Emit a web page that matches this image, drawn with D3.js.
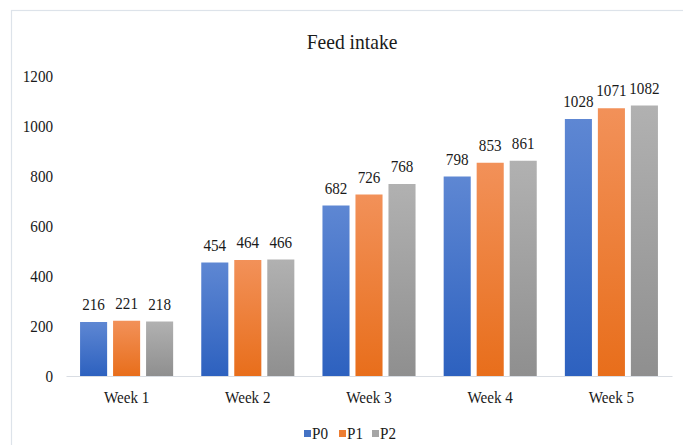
<!DOCTYPE html>
<html>
<head>
<meta charset="utf-8">
<script src="https://cdn.jsdelivr.net/npm/d3@7"></script>
<style>
  html, body { margin: 0; padding: 0; background: #fff; }
  svg { display: block; }
</style>
</head>
<body>
<svg id="chart" width="683" height="445"></svg>
<script>
const weeks = ["Week 1", "Week 2", "Week 3", "Week 4", "Week 5"];
const seriesNames = ["P0", "P1", "P2"];
const p0 = [216, 454, 682, 798, 1028];
const p1 = [221, 464, 726, 853, 1071];
const p2 = [218, 466, 768, 861, 1082];
const yTicks = [0, 200, 400, 600, 800, 1000, 1200];

const seriesValues = [p0, p1, p2];
const gradStops = [
  ["#5e87d3", "#2d61bf"],
  ["#f29159", "#e86e1b"],
  ["#b1b1b1", "#8f8f8f"]
];
const legendColors = ["#4472c4", "#ed7d31", "#a5a5a5"];

const FONT = "Liberation Serif";
const SQUEEZE = 0.89;

const svg = d3.select("#chart");
const W = 683, H = 445;
const margin = { left: 66, right: 11, top: 76, bottom: 69 };

// Horizontally condensed serif label
function label(parent, x, y, txt, size, anchor) {
  return parent.append("text")
    .attr("transform", `translate(${x},${y}) scale(${SQUEEZE},1)`)
    .attr("text-anchor", anchor || "middle")
    .attr("font-family", FONT)
    .attr("font-size", size)
    .attr("fill", "#1a1a1a")
    .text(txt);
}

// Chart frame
svg.append("rect")
  .attr("x", 11.5).attr("y", 10.5)
  .attr("width", W).attr("height", H)
  .attr("fill", "none").attr("stroke", "#dde3ea").attr("stroke-width", 1.2);

// Bar gradients
const defs = svg.append("defs");
gradStops.forEach((s, i) => {
  const g = defs.append("linearGradient")
    .attr("id", "grad" + i).attr("x1", 0).attr("y1", 0).attr("x2", 0).attr("y2", 1);
  g.append("stop").attr("offset", "0%").attr("stop-color", s[0]);
  g.append("stop").attr("offset", "100%").attr("stop-color", s[1]);
});

const x0 = d3.scaleBand().domain(weeks)
  .range([margin.left, W - margin.right]).paddingInner(0).paddingOuter(0);
const x1 = d3.scaleBand().domain(seriesNames)
  .range([0, x0.bandwidth()]).paddingInner(0.18).paddingOuter(0.426);
const y = d3.scaleLinear().domain([0, 1200]).range([H - margin.bottom, margin.top]);

// Title
label(svg, 352, 49, "Feed intake", 22);

// Y axis labels (no line, no ticks)
const yg = svg.append("g");
yTicks.forEach(t => label(yg, 53, y(t) + 6, String(t), 17, "end"));

// Bars and value labels
weeks.forEach((wk, i) => {
  seriesNames.forEach((s, j) => {
    const v = seriesValues[j][i];
    const bx = x0(wk) + x1(s);
    svg.append("rect")
      .attr("x", bx).attr("y", y(v))
      .attr("width", x1.bandwidth()).attr("height", y(0) - y(v))
      .attr("fill", `url(#grad${j})`);
    label(svg, bx + x1.bandwidth() / 2, y(v) - 12, String(v), 17);
  });
});

// X axis line and category labels
const xAxis = d3.axisBottom(x0).tickSize(0).tickFormat("");
const xg = svg.append("g").attr("transform", `translate(0,${y(0)})`).call(xAxis);
xg.select(".domain").attr("stroke", "#d9dde3").attr("stroke-width", 1.2);
weeks.forEach(wk => label(svg, x0(wk) + x0.bandwidth() / 2, y(0) + 27, wk, 17));

// Legend
const legendX = [304, 339, 372];
seriesNames.forEach((s, j) => {
  svg.append("rect")
    .attr("x", legendX[j]).attr("y", 430)
    .attr("width", 7).attr("height", 7)
    .attr("fill", legendColors[j]);
  label(svg, legendX[j] + 8, 439, s, 17, "start");
});
</script>
</body>
</html>
